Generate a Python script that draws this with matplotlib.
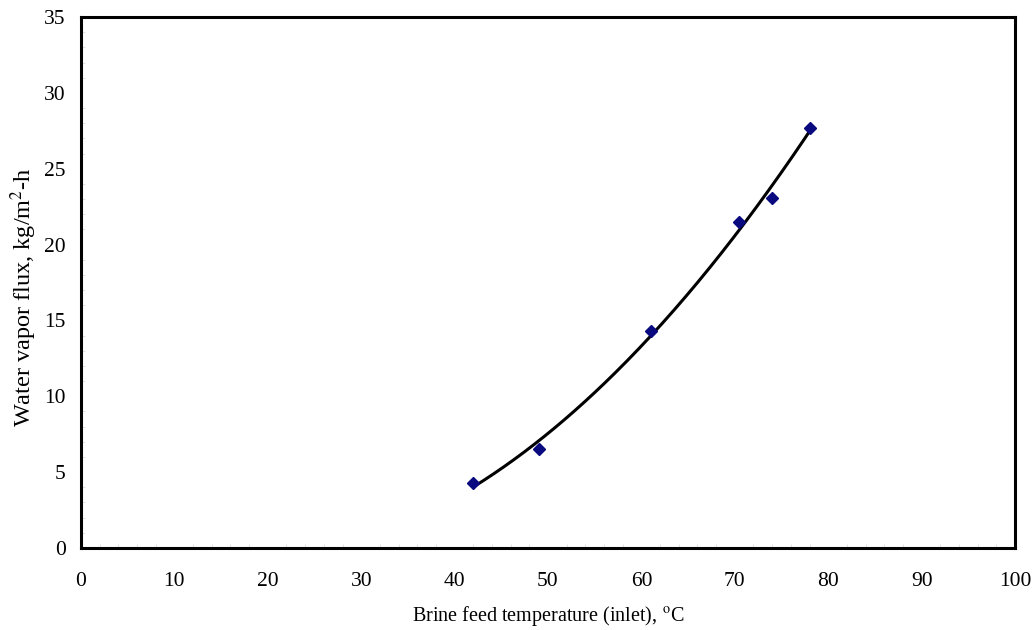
import numpy as np
import matplotlib
matplotlib.use('Agg')
import matplotlib.pyplot as plt
from matplotlib.ticker import MultipleLocator

# 读取的数据点
temp_c = [42, 49, 61, 70.5, 74, 78]
flux = [4.3, 6.5, 14.3, 21.5, 23.1, 27.7]

x_ticks = [0, 10, 20, 30, 40, 50, 60, 70, 80, 90, 100]
y_ticks = [0, 5, 10, 15, 20, 25, 30, 35]

plt.rcParams['font.family'] = ['Liberation Serif', 'DejaVu Serif']
plt.rcParams['mathtext.fontset'] = 'stix'

fig = plt.figure(figsize=(10.32, 6.3), dpi=100)
ax = fig.add_axes([81 / 1032, 1 - 548 / 630, (1015 - 81) / 1032, (548 - 17) / 630])

# 二次趋势线
coef = np.polyfit(temp_c, flux, 2)
xs = np.linspace(min(temp_c), max(temp_c), 200)
ax.plot(xs, np.polyval(coef, xs), color='black', lw=2.2, zorder=2)
ax.plot(temp_c, flux, linestyle='', marker='D', markersize=6.5,
        color='#0a0a80', zorder=3)

ax.set_xlim(0, 100)
ax.set_ylim(0, 35)
ax.set_xticks(x_ticks)
ax.set_yticks(y_ticks)
ax.xaxis.set_minor_locator(MultipleLocator(2))
ax.yaxis.set_minor_locator(MultipleLocator(1))
ax.tick_params(which='major', direction='in', length=0, labelsize=15.5)
ax.tick_params(axis='x', which='major', pad=17)
ax.tick_params(axis='y', which='major', pad=11)
ax.tick_params(which='minor', direction='in', length=3, color='#dddddd')
for s in ax.spines.values():
    s.set_linewidth(2.2)

ax.set_xlabel('Brine feed temperature (inlet), $^{\\mathrm{o}}$C', fontsize=14.5, labelpad=10)
ax.set_ylabel('Water vapor flux, kg/m$^{2}$-h', fontsize=17.5)
ax.yaxis.set_label_coords(-0.045, 0.473)

fig.savefig('out.png', dpi=100)
